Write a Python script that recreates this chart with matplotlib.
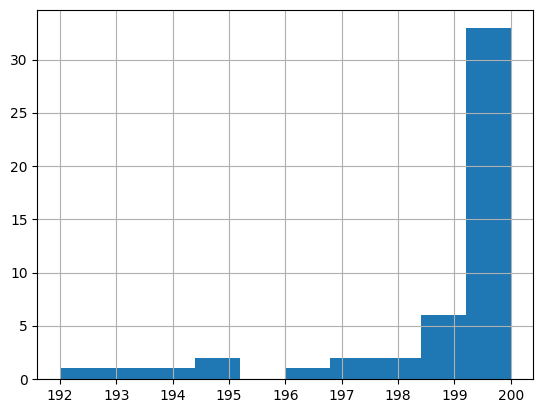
import numpy as np
import matplotlib
matplotlib.use("Agg")
import matplotlib.pyplot as plt

# histogram bins (10 bins from 192 to 200) and counts
bin_edges = np.linspace(192, 200, 11)
counts = [1, 1, 1, 2, 0, 1, 2, 2, 6, 33]

fig = plt.figure(figsize=(5.43, 4.13), dpi=100)
ax = fig.add_axes([0.069, 0.0823, 0.913, 0.8935])
ax.hist(bin_edges[:-1], bins=bin_edges, weights=counts, color="#1f77b4")
ax.grid(True)
ax.set_yticks([0, 5, 10, 15, 20, 25, 30])
ax.set_xticks(range(192, 201))

plt.savefig("out.png", dpi=100)
